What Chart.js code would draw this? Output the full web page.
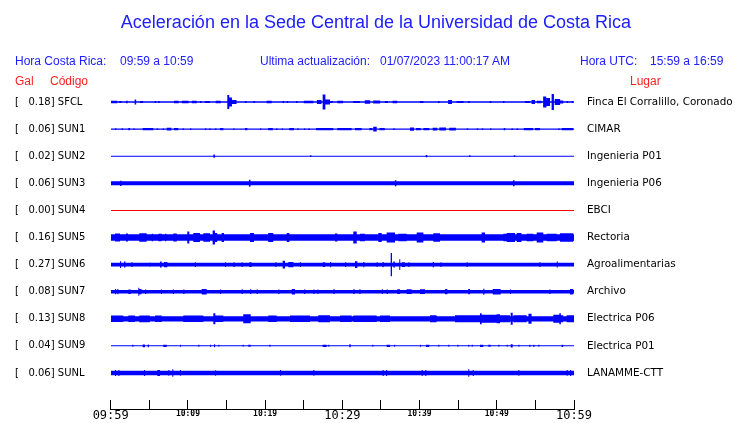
<!DOCTYPE html>
<html>
<head>
<meta charset="utf-8">
<script src="https://cdn.jsdelivr.net/npm/chart.js@4.4.1/dist/chart.umd.min.js"></script>
<style>
body { margin: 0; background: #fff; }
#wrap { position: relative; width: 740px; height: 423px; font-family: "Liberation Sans", Arial, sans-serif; }
#sismo { position: absolute; left: 0; top: 0; }
.t { position: absolute; white-space: pre; line-height: 1; }
.azul { color: #2020ff; font-size: 12px; }
.rojo { color: #ff2020; font-size: 12px; }
</style>
</head>
<body>
<div id="wrap">
<canvas id="sismo" width="740" height="423"></canvas>
<div class="t" style="left:0;width:752px;text-align:center;top:13px;font-size:18px;color:#2020ff">Aceleración en la Sede Central de la Universidad de Costa Rica</div>
<div class="t azul" style="left:15px;top:55px">Hora Costa Rica:</div>
<div class="t azul" style="left:120px;top:55px">09:59 a 10:59</div>
<div class="t azul" style="left:260px;top:55px">Ultima actualización:</div>
<div class="t azul" style="left:380px;top:55px">01/07/2023 11:00:17 AM</div>
<div class="t azul" style="left:580px;top:55px">Hora UTC:</div>
<div class="t azul" style="left:650px;top:55px">15:59 a 16:59</div>
<div class="t rojo" style="left:15px;top:75px">Gal</div>
<div class="t rojo" style="left:50px;top:75px">Código</div>
<div class="t rojo" style="left:630px;top:75px">Lugar</div>
</div>
<script>
// estaciones (de arriba a abajo)
var codes  = ['SFCL','SUN1','SUN2','SUN3','SUN4','SUN5','SUN6','SUN7','SUN8','SUN9','SUNL'];
var gals   = ['0.18','0.06','0.02','0.06','0.00','0.16','0.27','0.08','0.13','0.04','0.06'];
var places = ['Finca El Corralillo, Coronado','CIMAR','Ingenieria P01','Ingenieria P06','EBCI',
              'Rectoria','Agroalimentarias','Archivo','Electrica P06','Electrica P01','LANAMME-CTT'];
var colors = ['#0000ff','#0000ff','#0000ff','#0000ff','#ff0000','#0000ff','#0000ff','#0000ff','#0000ff','#0000ff','#0000ff'];

// amplitud de fondo de cada traza
var baseAmp = [0.8, 0.7, 0.5, 2.0, 0.5, 3.2, 1.8, 1.8, 2.6, 0.5, 2.3];

// eventos: [minuto inicio, minuto fin, amplitud]
var evSFCL = [[0,0.85,1.3],[1.1,1.4,1],[2.0,2.2,1.2],[3.1,3.3,2.5],[3.8,4.2,1],[5.7,5.9,0.9],[6.15,6.35,0.9],
  [8.2,8.8,1.3],[9.2,10.1,1.3],[10.5,11.15,1.3],[11.55,11.75,0.9],[12.2,12.85,1.1],[13.6,14.25,1.3],
  [15.1,15.35,7],[15.35,15.7,4.5],[15.7,16.3,2],[17.4,17.6,0.9],[18.5,18.7,0.9],[20.2,20.85,1.3],
  [22.25,22.45,0.9],[22.8,23,0.9],[24,24.2,1.1],[25.0,26.25,1.3],[26.7,27.3,2],[27.45,27.8,7.5],
  [27.8,28.4,2.5],[28.4,28.8,1.1],[29.35,30.1,1.3],[31.4,32.3,1.1],[32.9,33.6,1.8],[34.0,34.9,1.5],
  [35.5,35.9,1.1],[36.5,37.1,1.3],[40.05,40.5,1.1],[42.4,42.6,1.1],[43.7,44.2,2],[44.8,45.7,1.1],
  [46.3,46.5,0.9],[49.1,49.3,0.9],[50.8,51,1.1],[53.65,54.3,1.1],[54.5,54.95,2],[55.2,55.8,1.3],
  [56,56.4,5.5],[56.45,56.9,4],[57.1,57.4,8],[57.5,58.2,3],[58.2,58.6,1.5],[59.05,59.25,0.9],[59.7,59.9,0.9]];
var evSUN1 = [[0.55,0.75,0.9],[1.4,1.6,0.9],[2.28,2.5,1.2],[2.93,3.1,0.9],[4.14,5.52,1.2],[5.95,6.15,0.9],
  [6.73,6.9,0.9],[7.25,7.85,1.3],[8.2,8.75,1.1],[9.3,9.5,0.9],[10.27,10.45,0.9],[12.2,12.4,0.9],
  [12.77,12.95,0.9],[13.5,13.7,0.9],[14.15,14.58,1.1],[15.88,16.05,0.9],[17.4,17.7,1.2],[19.34,19.5,0.9],
  [20.4,21.0,1.2],[21.4,21.6,0.9],[22.14,22.3,0.9],[23.13,23.74,1.2],[24.17,24.35,0.9],[25.03,25.2,0.9],
  [25.6,25.8,0.9],[26.6,28.83,1.2],[29.35,31.2,1.2],[31.64,32.5,1.1],[33.5,33.9,1.2],[34.0,34.45,2.3],
  [34.8,35.5,1.2],[36.6,36.8,0.9],[38.76,39.28,1.7],[39.54,40.15,1.2],[40.5,41.26,1.2],[41.7,42.3,1.3],
  [42.56,43.42,1.5],[43.85,44.7,1.3],[46.1,46.3,0.9],[47.4,47.6,0.9],[48.05,48.25,0.9],[49.12,49.3,0.9],
  [50.9,51.1,1.1],[51.9,52.1,0.9],[52.58,52.78,0.9],[53.5,54.7,1.2],[54.95,55.6,1.1],[57.96,58.15,0.9],
  [58.4,59.9,1.2]];
var evSUN2 = [[13.3,13.5,1.6],[25.8,26,0.9],[40.8,41,1.1],[46.4,46.6,0.9],[52.2,52.4,0.9]];
var evSUN3 = [[1.2,1.4,2.6],[17.9,18.1,3.5],[36.8,37.0,3],[52.1,52.3,3]];
var evSUN4 = [];
var evSUN5 = [[0.56,1.2,4],[1.98,2.24,4],[3.7,4.66,4.2],[5.3,5.5,3.8],[6.17,6.6,3.8],[7.03,7.2,3.8],
  [8.1,8.55,4],[9.92,10.18,6],[10.7,11.56,4.5],[12.0,12.86,4.2],[13.2,13.5,7],[13.5,13.8,4.5],
  [14.37,14.67,4.5],[18.04,18.56,4.5],[20.4,21.05,4.5],[22.8,23.13,4.5],[29.05,29.35,4],
  [31.42,31.86,6],[32.3,32.93,3.8],[34.66,35.1,4.5],[35.74,36.82,5],[37.25,38.33,3.8],
  [39.63,40.49,5],[41.78,42.65,4.2],[48.04,48.47,5],[50.85,51.3,3.8],[51.3,52.36,4.5],[52.58,53.2,4.5],
  [53.87,54.73,3.8],[55.17,56.02,5],[56.46,57.76,3.8],[58.19,59.9,4.2]];
var evSUN6 = [[1.2,1.35,3.3],[1.72,1.9,3],[2.7,2.85,2.3],[5.0,5.15,2.2],[6.38,6.6,3],[6.9,7.33,2.6],
  [10.9,11.05,2.3],[14.8,14.95,2.3],[15.9,16.05,2.3],[16.96,17.1,2.3],[17.95,18.26,2.4],[21.3,21.45,2.3],
  [22.27,22.57,3.8],[23.0,23.65,2.6],[24.5,24.65,2.3],[27.45,27.75,2.3],[28.4,28.55,2.6],[30.34,30.5,2.3],
  [31.64,31.94,3.3],[32.7,32.85,2.7],[34.45,34.6,2.3],[35.2,35.35,2.6],[36.26,36.43,11.7],[36.6,36.8,3],
  [37.37,37.5,5.3],[37.7,38.1,2.3],[38.54,38.7,2.3],[41.7,41.87,2.7],[42.7,42.85,2.3],[46.1,46.25,2.3],
  [55.5,55.65,2.3],[57.76,57.9,3]];
var evSUN7 = [[0.56,0.7,2.6],[0.86,1.0,2.6],[2.28,2.6,2.3],[3.57,3.7,4],[3.7,4.0,2.6],[4.44,4.6,2.3],
  [6.5,6.65,2.3],[8.03,8.2,2.3],[9.4,9.55,2.3],[11.78,12.43,2.7],[14.15,14.3,2.3],[16.96,17.1,2.4],[18.04,18.2,2.4],
  [18.9,19.05,2.3],[21.7,21.85,2.3],[23.44,23.87,2.7],[25.03,25.2,2.3],[26.24,26.4,2.3],[26.76,26.9,2.3],
  [28.83,29.0,2.4],[31.42,31.6,2.4],[32.2,32.35,2.4],[35.1,35.25,2.4],[35.74,35.9,2.3],[37.1,37.47,2.4],
  [38.33,38.98,2.4],[40.06,40.7,2.4],[43.3,43.6,2.6],[46.3,46.53,2.6],[48.25,48.4,3],[49.47,50.5,2.7],
  [51.7,51.85,2.3],[56.8,56.95,2.3],[59.48,59.9,2.7]];
var evSUN8 = [[0,1.63,3.2],[2.28,3.15,3.2],[3.7,5.07,3.4],[5.74,6.6,3.2],[9.4,12.0,3.2],
  [13.29,13.55,5.5],[13.55,14.58,3.2],[17.17,18.13,4.5],
  [20.41,21.5,3.2],[23.22,25.81,3.3],[26.88,28.4,3.5],[29.7,31.2,3.2],
  [31.42,34.45,3.3],[34.88,36.17,3.3],[41.35,42.2,3.5],[44.59,47.83,3.5],
  [47.83,48.04,5.5],[48.04,49.98,4],[49.98,50.42,4.5],[50.42,51.71,3.5],[51.8,52.06,6],[52.14,53.87,3.5],
  [54.1,54.5,5],[57.32,58.1,4],[58.1,58.3,5.5],[58.3,58.6,3.5],[59.05,60,3.5]];
var evSUN9 = [[2.8,2.95,1],[4.14,4.44,1.3],[4.79,4.95,1.3],[6.81,7.25,1.2],[8.97,9.1,1],[11.35,11.5,1],
  [12.86,13.0,1],[13.38,13.52,1.5],[13.94,14.08,1],[17.09,17.22,1],[17.82,18.13,1],[20.54,20.7,1],
  [27.45,27.97,1.2],[28.18,28.32,1],[30.9,31.08,1.5],[33.88,34.02,1],[35.74,36.17,1.2],[36.69,36.83,1],
  [40.06,40.2,1],[40.83,41.26,1.2],[42.43,42.57,1],[43.72,43.86,1],[44.89,45.03,1],[46.31,46.45,1],
  [46.75,46.89,1],[47.83,48.25,1.2],[48.9,49.21,1],[50.2,50.34,1],[51.28,51.42,1],[51.8,52.06,1.7],
  [52.79,52.93,1],[54.21,54.35,1.2],[54.73,54.87,1.2],[55.38,55.52,1],[58.4,58.6,1.2]];
var evSUNL = [[0.56,0.7,3],[0.99,1.13,3],[4.31,4.45,3],[6.04,6.38,3],[7.46,7.6,2.9],[7.98,8.11,3.7],
  [8.97,9.1,2.9],[13.51,13.65,2.8],[21.93,22.07,2.9],[26.24,26.38,2.9],[35.22,35.36,3],[35.65,35.79,3],
  [40.27,40.41,3],[40.74,40.88,3],[46.31,46.44,3.7],[46.88,47.02,3],[52.79,52.93,2.9],[59.05,59.19,2.9],
  [59.48,59.62,3]];
var events = [evSFCL, evSUN1, evSUN2, evSUN3, evSUN4, evSUN5, evSUN6, evSUN7, evSUN8, evSUN9, evSUNL];

// eje de tiempo (minutos desde 09:59)
var tickLabels = ['09:59','','10:09','','10:19','','10:29','','10:39','','10:49','','10:59'];
var GAIN = 27.1;   // amplitud por fila

function envelope(ev, base, row, sign) {
  var pts = [{x: 0, y: row + sign * base / GAIN}];
  ev.forEach(function (e) {
    pts.push({x: e[0], y: row + sign * base / GAIN});
    pts.push({x: e[0], y: row + sign * e[2] / GAIN});
    pts.push({x: e[1], y: row + sign * e[2] / GAIN});
    pts.push({x: e[1], y: row + sign * base / GAIN});
  });
  pts.push({x: 60, y: row + sign * base / GAIN});
  return pts;
}

var datasets = [];
codes.forEach(function (c, i) {
  datasets.push({label: c, data: envelope(events[i], baseAmp[i], i, -1), borderWidth: 0,
    pointRadius: 0, fill: '+1', backgroundColor: colors[i], borderColor: colors[i]});
  datasets.push({label: c + '_', data: envelope(events[i], baseAmp[i], i, 1), borderWidth: 0,
    pointRadius: 0, fill: false, backgroundColor: colors[i], borderColor: colors[i]});
});

var rowTicks = function (scale) {
  scale.ticks = codes.map(function (c, i) { return {value: i}; });
};

new Chart(document.getElementById('sismo'), {
  type: 'line',
  data: {datasets: datasets},
  options: {
    responsive: false,
    animation: false,
    layout: {padding: {left: 15, right: 0, top: 81.7, bottom: 0}},
    plugins: {legend: {display: false}, tooltip: {enabled: false}},
    elements: {line: {tension: 0}},
    scales: {
      x: {
        type: 'linear', min: 0, max: 60,
        afterFit: function (s) { s.height = 14; },
        grid: {drawOnChartArea: false, drawTicks: true, tickLength: -9, color: '#000'},
        border: {display: true, color: '#000'},
        ticks: {
          stepSize: 5, autoSkip: false, maxRotation: 0, padding: 9, color: '#000',
          callback: function (v, i) { return tickLabels[i]; },
          font: function (ctx) {
            return ctx.index % 6 === 0 ? {family: 'DejaVu Sans Mono', size: 12}
                                       : {family: 'DejaVu Sans Mono', size: 8, weight: 'bold'};
          }
        }
      },
      y: {
        type: 'linear', position: 'left', reverse: true, min: -0.75, max: 11.33,
        afterBuildTicks: rowTicks,
        afterFit: function (s) { s.width = 95.7; },
        grid: {display: false, drawTicks: false},
        border: {display: false},
        ticks: {crossAlign: 'far', padding: 3, color: '#000', font: {family: 'DejaVu Sans', size: 10},
          callback: function (v, i) { return '[   ' + gals[i] + '] ' + codes[i]; }}
      },
      y2: {
        type: 'linear', position: 'right', reverse: true, min: -0.75, max: 11.33,
        afterBuildTicks: rowTicks,
        afterFit: function (s) { s.width = 166; },
        grid: {display: false, drawTicks: true, tickLength: 10},
        border: {display: false},
        ticks: {padding: 3, color: '#000', font: {family: 'DejaVu Sans', size: 10.4},
          callback: function (v, i) { return places[i]; }}
      }
    }
  }
});
</script>
</body>
</html>
